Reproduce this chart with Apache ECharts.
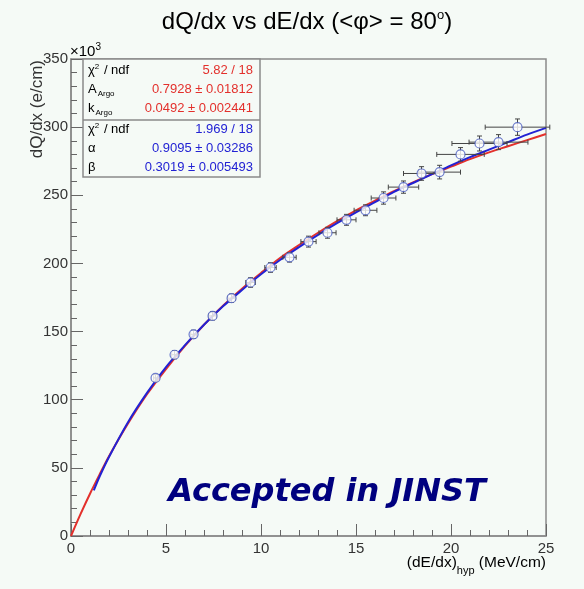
<!DOCTYPE html>
<html>
<head>
<meta charset="utf-8">
<script src="https://cdn.jsdelivr.net/npm/echarts@6/dist/echarts.min.js"></script>
<style>
html, body { margin: 0; padding: 0; background: #f5faf6; }
#chart { width: 584px; height: 589px; }
</style>
</head>
<body>
<div id="chart"></div>
<script>
// Measured dQ/dx points (x in MeV/cm, y in 10^3 e/cm) with their errors
const dataX = [4.45, 5.45, 6.45, 7.45, 8.45, 9.45, 10.5, 11.5, 12.5, 13.5, 14.5, 15.5, 16.45, 17.5, 18.45, 19.4, 20.5, 21.5, 22.5, 23.5];
const dataY = [116, 133, 148, 161.5, 174.5, 186, 197, 204.5, 216, 222.5, 232, 239, 248, 256, 266, 267, 280, 288, 289, 300];
const errX = [0.1, 0.15, 0.15, 0.2, 0.2, 0.25, 0.3, 0.35, 0.4, 0.45, 0.5, 0.6, 0.65, 0.8, 0.95, 1.1, 1.25, 1.45, 1.55, 1.7];
const errY = [2.5, 3, 3, 3, 3, 3.5, 3.5, 3.5, 4, 4, 4, 4, 4.5, 4.5, 5, 5, 5, 5.5, 5.5, 6];

// Birks (ArgoNeuT) fit curve
const birksX = [0, 0.5, 1, 1.5, 2, 3, 4, 5, 6, 7, 8, 9, 10, 11, 12, 13, 14, 15, 16, 17, 18, 19, 20, 21, 22, 23, 24, 25];
const birksY = [0, 16, 31, 45, 58.5, 82.5, 104, 122.5, 139.5, 155, 169, 181.5, 193, 204, 213.5, 222.5, 231, 239, 246, 253, 259.5, 265.5, 271, 276.5, 281.5, 286, 290.5, 295];

// Modified box model fit curve
const boxX = [1.2, 1.5, 2, 3, 4, 5, 6, 7, 8, 9, 10, 11, 12, 13, 14, 15, 16, 17, 18, 19, 20, 21, 22, 23, 24, 25];
const boxY = [33.5, 43.5, 58, 83.5, 105, 124, 140, 155, 168.5, 180.5, 192, 202.5, 212, 221, 229.5, 237.5, 245, 252.5, 259, 265.5, 272, 278, 283.5, 289, 294.5, 299.5];

// Axis ticks
const xTicks = [0, 5, 10, 15, 20, 25];
const yTicks = [0, 50, 100, 150, 200, 250, 300, 350];

// Fit statistics
const birksStats = [
  ['{l|χ}{sup|2}{l| / ndf}', '5.82 / 18'],
  ['{l|A}{sub|Argo}', '0.7928 ± 0.01812'],
  ['{l|k}{sub|Argo}', '0.0492 ± 0.002441']
];
const boxStats = [
  ['{l|χ}{sup|2}{l| / ndf}', '1.969 / 18'],
  ['{l|α}', '0.9095 ± 0.03286'],
  ['{l|β}', '0.3019 ± 0.005493']
];

const BG = '#f5faf6';
const FRAME = '#8a8a8a';
const TEXT = '#333333';
const RED = '#e3302c';
const BLUE = '#2222d4';
const FONT = '"Liberation Sans", Arial, sans-serif';

const chart = echarts.init(document.getElementById('chart'));

const grid = { left: 71, top: 59, width: 475, height: 477 };

function statRich(color) {
  return {
    l: { fontFamily: FONT, fontSize: 13, color: color },
    sup: { fontFamily: FONT, fontSize: 8, color: color, padding: [0, 1, 7, 0] },
    sub: { fontFamily: FONT, fontSize: 8, color: color, padding: [9, 0, 0, 1] }
  };
}

const graphics = [];
// title
graphics.push({
  type: 'text', x: 307, y: 22, z: 12,
  style: { text: '{a|dQ/dx vs dE/dx (<φ> = 80}{s|o}{a|)}', align: 'center', verticalAlign: 'middle',
    rich: {
      a: { fontFamily: FONT, fontSize: 24, color: TEXT },
      s: { fontFamily: FONT, fontSize: 13, color: TEXT, padding: [0, 0, 13, 0] }
    } }
});
// stats box
const boxL = 83, boxR = 260, boxT = 59, boxMid = 120, boxB = 177;
graphics.push({
  type: 'rect', shape: { x: boxL, y: boxT, width: boxR - boxL, height: boxB - boxT },
  style: { fill: BG, stroke: FRAME, lineWidth: 1.5 }, z: 10
});
graphics.push({
  type: 'line', shape: { x1: boxL, y1: boxMid, x2: boxR, y2: boxMid },
  style: { stroke: FRAME, lineWidth: 1.5 }, z: 11
});
const rowsY = [70, 89, 108, 129, 148, 167];
[birksStats, boxStats].forEach(function (rows, gi) {
  const color = gi === 0 ? RED : BLUE;
  rows.forEach(function (r, i) {
    const y = rowsY[gi * 3 + i];
    graphics.push({
      type: 'text', x: 88, y: y, z: 12,
      style: { text: r[0], rich: statRich(color), verticalAlign: 'middle', align: 'left' }
    });
    graphics.push({
      type: 'text', x: 253, y: y, z: 12,
      style: { text: r[1], fontFamily: FONT, fontSize: 13, fill: color, verticalAlign: 'middle', align: 'right' }
    });
  });
});
// exponent marker on the y axis
graphics.push({
  type: 'text', x: 70, y: 52, z: 12,
  style: { text: '{m|×10}{e|3}', align: 'left', verticalAlign: 'middle',
    rich: { m: { fontFamily: FONT, fontSize: 15, color: TEXT }, e: { fontFamily: FONT, fontSize: 10, color: TEXT, padding: [0, 0, 9, 0] } } }
});
// y axis title
graphics.push({
  type: 'text', x: 37, y: 60, rotation: Math.PI / 2, z: 12,
  style: { text: 'dQ/dx (e/cm)', fontFamily: FONT, fontSize: 17, fill: TEXT, align: 'right', verticalAlign: 'middle' }
});
// x axis title
graphics.push({
  type: 'text', x: 546, y: 563, z: 12,
  style: { text: '{m|(dE/dx)}{s|hyp}{m| (MeV/cm)}', align: 'right', verticalAlign: 'middle',
    rich: { m: { fontFamily: FONT, fontSize: 15.5, color: TEXT }, s: { fontFamily: FONT, fontSize: 11, color: TEXT, padding: [16, 0, 0, 0] } } }
});
// publication stamp
graphics.push({
  type: 'text', x: 327, y: 493, z: 12,
  style: { text: 'Accepted in JINST', fontFamily: '"DejaVu Sans", sans-serif', fontWeight: 'bold', fontStyle: 'italic',
    fontSize: 32, fill: '#00007f', align: 'center', verticalAlign: 'middle' }
});

const option = {
  backgroundColor: BG,
  animation: false,
  grid: Object.assign({ show: true, borderColor: FRAME, borderWidth: 1.5, backgroundColor: BG }, grid),
  xAxis: {
    type: 'value', min: xTicks[0], max: xTicks[xTicks.length - 1], interval: 5,
    axisLine: { show: true, onZero: false, lineStyle: { color: FRAME, width: 1.5 } },
    axisTick: { show: true, inside: true, length: 12, lineStyle: { color: '#666' } },
    minorTick: { show: true, splitNumber: 5, length: 6, lineStyle: { color: '#666' } },
    splitLine: { show: false },
    axisLabel: { margin: 5, fontFamily: FONT, fontSize: 15, color: TEXT,
      formatter: function (v) { return xTicks.indexOf(v) >= 0 ? String(v) : ''; } }
  },
  yAxis: {
    type: 'value', min: yTicks[0], max: yTicks[yTicks.length - 1], interval: 50,
    axisLine: { show: true, onZero: false, lineStyle: { color: FRAME, width: 1.5 } },
    axisTick: { show: true, inside: true, length: 12, lineStyle: { color: '#666' } },
    minorTick: { show: true, splitNumber: 5, length: 6, lineStyle: { color: '#666' } },
    splitLine: { show: false },
    axisLabel: { margin: 3, fontFamily: FONT, fontSize: 15, color: TEXT,
      formatter: function (v) { return yTicks.indexOf(v) >= 0 ? String(v) : ''; } }
  },
  graphic: graphics,
  series: [
    {
      name: 'Birks', type: 'line', smooth: 0.3, symbol: 'none', z: 3,
      lineStyle: { color: RED, width: 2 },
      data: birksX.map(function (x, i) { return [x, birksY[i]]; })
    },
    {
      name: 'Box', type: 'line', smooth: 0.3, symbol: 'none', z: 4,
      lineStyle: { color: BLUE, width: 2 },
      data: boxX.map(function (x, i) { return [x, boxY[i]]; })
    },
    {
      name: 'errors', type: 'custom', z: 5,
      renderItem: function (params, api) {
        const x = api.value(0), y = api.value(1), ex = api.value(2), ey = api.value(3);
        const l = api.coord([x - ex, y]), r = api.coord([x + ex, y]);
        const t = api.coord([x, y + ey]), b = api.coord([x, y - ey]);
        const c = 2.5;
        const st = { stroke: '#444', lineWidth: 1 };
        return {
          type: 'group',
          children: [
            { type: 'line', shape: { x1: l[0], y1: l[1], x2: r[0], y2: r[1] }, style: st },
            { type: 'line', shape: { x1: l[0], y1: l[1] - c, x2: l[0], y2: l[1] + c }, style: st },
            { type: 'line', shape: { x1: r[0], y1: r[1] - c, x2: r[0], y2: r[1] + c }, style: st },
            { type: 'line', shape: { x1: t[0], y1: t[1], x2: b[0], y2: b[1] }, style: st },
            { type: 'line', shape: { x1: t[0] - c, y1: t[1], x2: t[0] + c, y2: t[1] }, style: st },
            { type: 'line', shape: { x1: b[0] - c, y1: b[1], x2: b[0] + c, y2: b[1] }, style: st }
          ]
        };
      },
      data: dataX.map(function (x, i) { return [x, dataY[i], errX[i], errY[i]]; })
    },
    {
      name: 'data', type: 'scatter', symbol: 'circle', symbolSize: 9, z: 6,
      itemStyle: { color: '#ffffff', borderColor: '#4a5cc0', borderWidth: 1.2 },
      data: dataX.map(function (x, i) { return [x, dataY[i]]; })
    }
  ]
};

chart.setOption(option);
</script>
</body>
</html>
